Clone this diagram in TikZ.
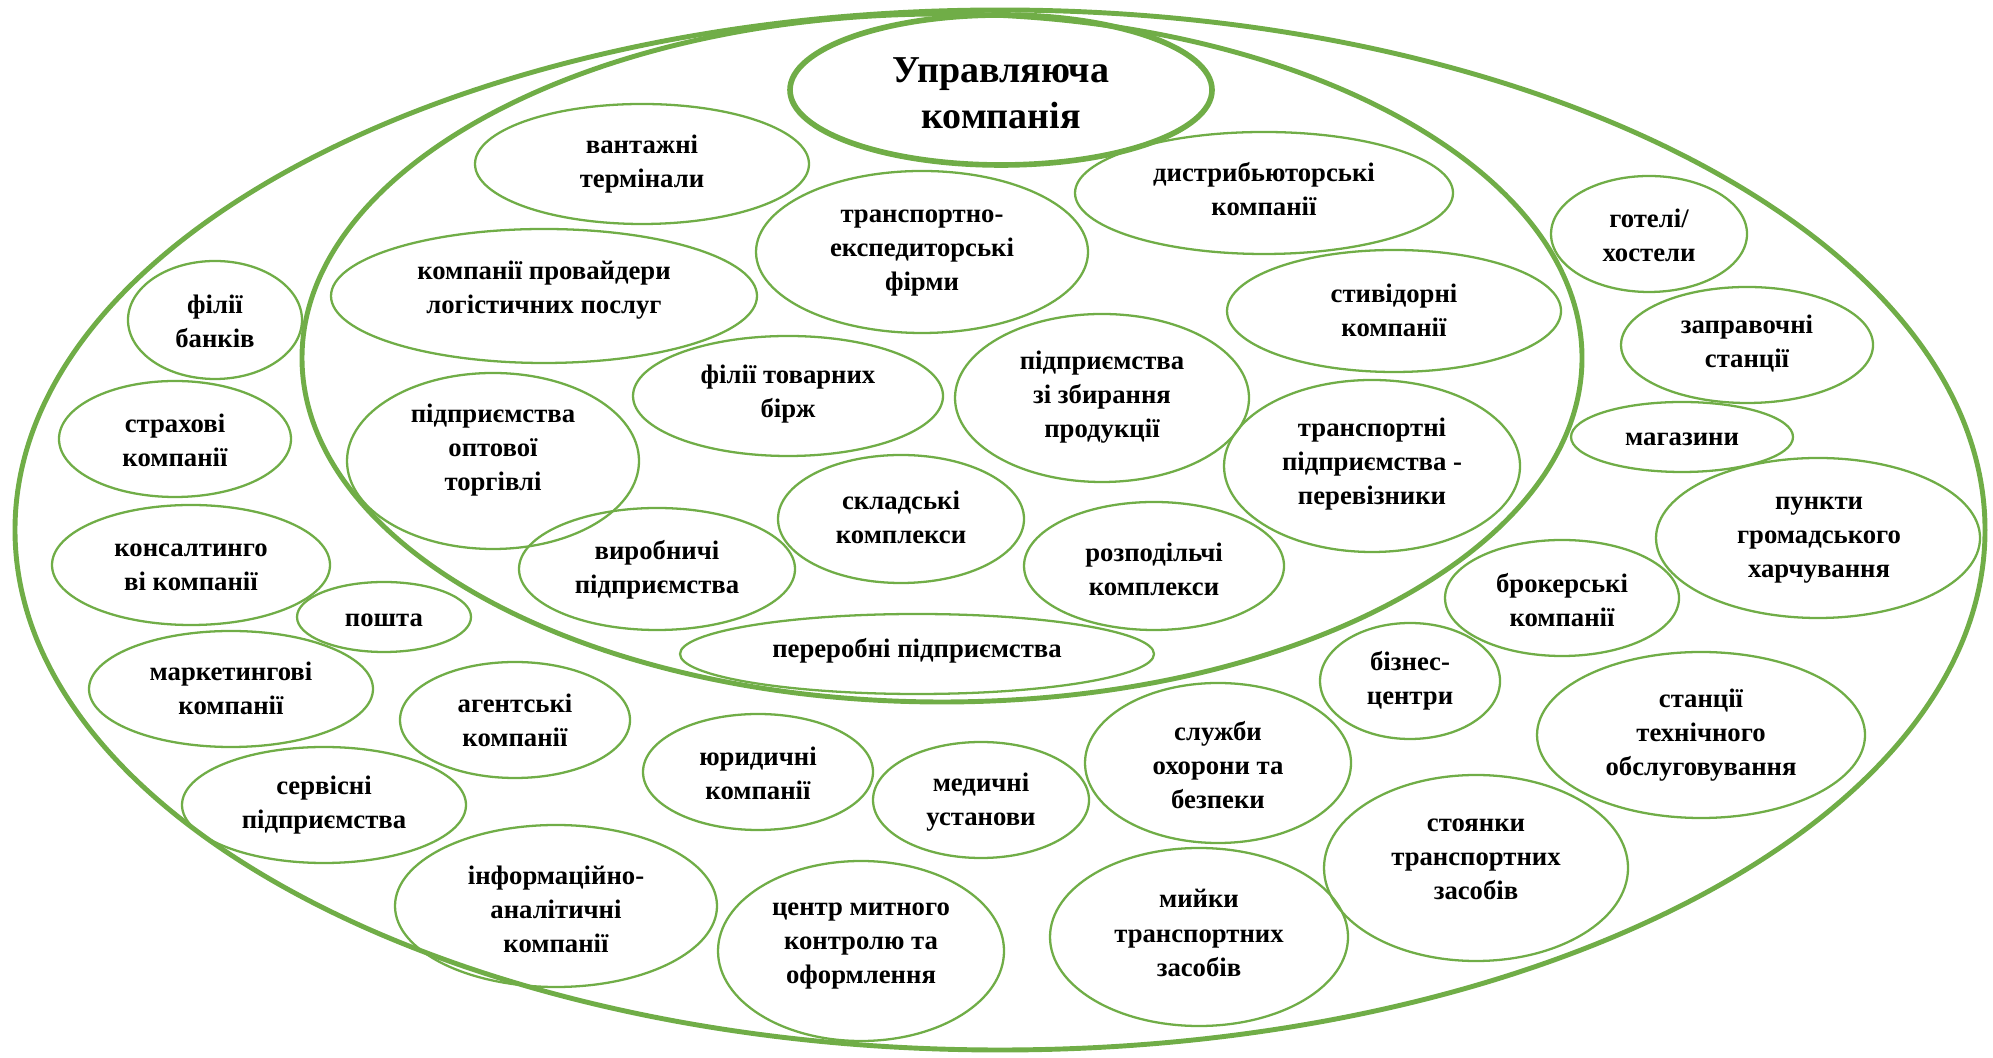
\documentclass[tikz,border=0pt]{standalone}
\usepackage{fontspec}
\setmainfont{Liberation Serif}[BoldFont={Liberation Serif Bold}]
\newfontfamily\tnrbold{Liberation Serif Bold}
\definecolor{leafgreen}{HTML}{70AD47}

\begin{document}
\begin{tikzpicture}[
  ring/.style={draw=leafgreen, line width=1.4pt},
  unit/.style={draw=leafgreen, line width=0.65pt},
  lbl/.style={font=\tnrbold\fontsize{7.6}{9.7}\selectfont, align=center, inner sep=0pt},
  headlbl/.style={font=\tnrbold\fontsize{10.8}{13.1}\selectfont, align=center, inner sep=0pt}]
\useasboundingbox (0,0) rectangle (19.93,10.57);
% outer and inner rings:
\draw[ring] (10.00,5.27) ellipse (9.85 and 5.20);
\draw[ring] (9.42,6.99) ellipse (6.40 and 3.44);
% managing company:
\draw[ring, line width=1.6pt] (10.01,9.67) ellipse (2.11 and 0.75);
\node[headlbl] (upr) at (10.01,9.64) {Управляюча\\компанія};
% inner ring:
\draw[unit] (6.42,8.93) ellipse (1.67 and 0.60);
\node[lbl] (vant) at (6.42,8.93) {вантажні\\термінали};
\draw[unit] (9.22,8.05) ellipse (1.66 and 0.81);
\node[lbl] (eksp) at (9.22,8.04) {транспортно-\\експедиторські\\фірми};
\draw[unit] (12.64,8.64) ellipse (1.89 and 0.61);
\node[lbl] (dystr) at (12.64,8.68) {дистрибьюторські\\компанії};
\draw[unit] (5.44,7.61) ellipse (2.13 and 0.67);
\node[lbl] (prov) at (5.44,7.67) {компанії провайдери\\логістичних послуг};
\draw[unit] (13.94,7.46) ellipse (1.67 and 0.61);
\node[lbl] (styv) at (13.94,7.47) {стивідорні\\компанії};
\draw[unit] (7.88,6.61) ellipse (1.55 and 0.60);
\node[lbl] (birzh) at (7.88,6.63) {філії товарних\\бірж};
\draw[unit] (11.02,6.59) ellipse (1.47 and 0.84);
\node[lbl] (zbyr) at (11.02,6.60) {підприємства\\зі збирання\\продукції};
\draw[unit] (4.93,5.96) ellipse (1.46 and 0.88);
\node[lbl] (opt) at (4.93,6.07) {підприємства\\оптової\\торгівлі};
\draw[unit] (13.72,5.91) ellipse (1.48 and 0.86);
\node[lbl] (perev) at (13.72,5.93) {транспортні\\підприємства -\\перевізники};
\draw[unit] (9.01,5.38) ellipse (1.23 and 0.64);
\node[lbl] (sklad) at (9.01,5.40) {складські\\комплекси};
\draw[unit] (6.57,4.88) ellipse (1.38 and 0.61);
\node[lbl] (vyrob) at (6.57,4.87) {виробничі\\підприємства};
\draw[unit] (11.54,4.91) ellipse (1.30 and 0.64);
\node[lbl] (rozp) at (11.54,4.88) {розподільчі\\комплекси};
\draw[unit] (9.17,4.03) ellipse (2.37 and 0.40);
\node[lbl] (perer) at (9.17,4.06) {переробні підприємства};
% outer ring:
\draw[unit] (2.15,7.37) ellipse (0.87 and 0.59);
\node[lbl] (bank) at (2.15,7.36) {філії\\банків};
\draw[unit] (1.75,6.18) ellipse (1.16 and 0.58);
\node[lbl] (strakh) at (1.75,6.17) {страхові\\компанії};
\draw[unit] (1.91,4.92) ellipse (1.39 and 0.60);
\node[lbl] (kons) at (1.91,4.90) {консалтинго\\ві компанії};
\draw[unit] (3.84,4.40) ellipse (0.87 and 0.35);
\node[lbl] (poshta) at (3.84,4.37) {пошта};
\draw[unit] (2.31,3.68) ellipse (1.42 and 0.58);
\node[lbl] (mark) at (2.31,3.69) {маркетингові\\компанії};
\draw[unit] (5.15,3.37) ellipse (1.15 and 0.58);
\node[lbl] (agent) at (5.15,3.37) {агентські\\компанії};
\draw[unit] (3.24,2.52) ellipse (1.42 and 0.58);
\node[lbl] (serv) at (3.24,2.52) {сервісні\\підприємства};
\draw[unit] (7.58,2.85) ellipse (1.15 and 0.58);
\node[lbl] (yur) at (7.58,2.84) {юридичні\\компанії};
\draw[unit] (9.81,2.57) ellipse (1.08 and 0.58);
\node[lbl] (med) at (9.81,2.55) {медичні\\установи};
\draw[unit] (5.56,1.51) ellipse (1.61 and 0.81);
\node[lbl] (inform) at (5.56,1.48) {інформаційно-\\аналітичні\\компанії};
\draw[unit] (8.61,1.06) ellipse (1.43 and 0.90);
\node[lbl] (mytn) at (8.61,1.11) {центр митного\\контролю та\\оформлення};
\draw[unit] (12.18,2.94) ellipse (1.33 and 0.80);
\node[lbl] (okhor) at (12.18,2.92) {служби\\охорони та\\безпеки};
\draw[unit] (11.99,1.20) ellipse (1.49 and 0.89);
\node[lbl] (myiky) at (11.99,1.24) {мийки\\транспортних\\засобів};
\draw[unit] (14.76,1.89) ellipse (1.52 and 0.93);
\node[lbl] (stoyan) at (14.76,1.98) {стоянки\\транспортних\\засобів};
\draw[unit] (17.01,3.22) ellipse (1.64 and 0.83);
\node[lbl] (sto) at (17.01,3.22) {станції\\технічного\\обслуговування};
\draw[unit] (14.10,3.76) ellipse (0.90 and 0.58);
\node[lbl] (biznes) at (14.10,3.76) {бізнес-\\центри};
\draw[unit] (15.62,4.59) ellipse (1.17 and 0.58);
\node[lbl] (brok) at (15.62,4.57) {брокерські\\компанії};
\draw[unit] (18.18,5.19) ellipse (1.62 and 0.80);
\node[lbl] (kharch) at (18.19,5.17) {пункти\\громадського\\харчування};
\draw[unit] (16.82,6.20) ellipse (1.11 and 0.35);
\node[lbl] (mahaz) at (16.82,6.18) {магазини};
\draw[unit] (17.47,7.12) ellipse (1.26 and 0.58);
\node[lbl] (zapr) at (17.47,7.13) {заправочні\\станції};
\draw[unit] (16.49,8.23) ellipse (0.98 and 0.58);
\node[lbl] (hotel) at (16.49,8.22) {готелі/\\хостели};
\end{tikzpicture}
\end{document}
